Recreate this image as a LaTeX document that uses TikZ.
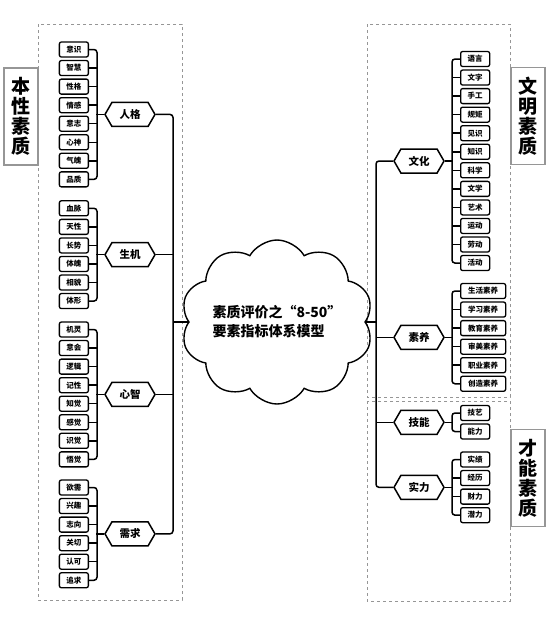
\documentclass[tikz,border=0pt]{standalone}
\usepackage{fontspec}
\setmainfont{Noto Sans CJK SC}
\usetikzlibrary{shapes.symbols,positioning}
\definecolor{framegray}{RGB}{150,150,150}

\begin{document}
\begin{tikzpicture}[x=1pt,y=-1pt,
    leaf/.style={draw,line width=1.3pt,rounded corners=2pt,fill=white,minimum height=15pt,inner sep=1pt,font=\fontsize{7.5}{8}\selectfont\bfseries},
    hexa/.style={signal,signal to=west and east,signal pointer angle=120,draw,line width=1.5pt,minimum width=50pt,minimum height=24pt,inner sep=0pt,font=\fontsize{10.5}{12}\selectfont\bfseries},
    link/.style={line width=1.5pt,rounded corners=3pt},
    zone/.style={draw=framegray,dashed,line width=0.6pt},
    tag/.style={draw=framegray,line width=1.2pt,fill=white,minimum width=34pt,minimum height=97pt,align=center,font=\fontsize{19}{20}\selectfont\bfseries}]
        \useasboundingbox (0,0) rectangle (550,622);
        % dashed zones and side tags
        \draw[zone] (38,24) rectangle (182,600);
        \draw[zone] (367,24) rectangle (510,397);
        \draw[zone] (367,401) rectangle (510,601);
        \node[tag] (bx) at (21,116.5) {本\\性\\素\\质};
        \node[tag] (wm) at (528,116) {文\\明\\素\\质};
        \node[tag] (cn) at (528,478) {才\\能\\素\\质};
        \coordinate (lt) at (173,0);
        \coordinate (rt) at (376,0);
        % centre
        \node[cloud,draw,line width=1.4pt,cloud puffs=10,cloud puff arc=120,cloud ignores aspect,minimum width=170pt,minimum height=164pt,align=left,font=\fontsize{14}{19}\selectfont\bfseries] (cloud) at (277,322) {素质评价之“8-50”\\要素指标体系模型};
        % left groups
        \foreach \g/\h/\y/\n/\items in {rg/人格/49.5/8/{意识,智慧,性格,情感,意志,心神,气魄,品质},
          sj/生机/208.3/6/{血脉,天性,长势,体魄,相貌,体形},
          xz/心智/329.5/8/{机灵,意会,逻辑,记性,知觉,感觉,识觉,悟觉},
          xq/需求/487.5/6/{欲需,兴趣,志向,关切,认可,追求}}{
          \foreach \t [count=\i] in \items
            \node[leaf,minimum width=29pt,anchor=east] (\g-\i) at (89,\y+\i*18.55-18.55) {\t};
          \node[hexa] (\g) at (130,\y+\n*9.275-9.275) {\h};
          \draw[link] (\g-1.east) -- ++(8,0) |- (\g-\n.east);
          \foreach \i in {1,...,\n}{
            \ifnum\i>1 \ifnum\i<\n \draw[link] (\g-\i.east) -- ++(8,0); \fi\fi
          }
          \draw[link] (\g.west) -- ++(-8,0);
        }
        % right groups
        \foreach \g/\h/\y/\n/\w/\items in {wh/文化/59/12/29/{语言,文字,手工,规矩,见识,知识,科学,文学,艺术,运动,劳动,活动},
          sy/素养/291/6/45/{生活素养,学习素养,教育素养,审美素养,职业素养,创造素养},
          jn/技能/413/2/29/{技艺,能力},
          sl/实力/459.5/4/29/{实绩,经历,财力,潜力}}{
          \foreach \t [count=\i] in \items
            \node[leaf,minimum width=\w pt,anchor=west] (\g-\i) at (460,\y+\i*18.55-18.55) {\t};
          \node[hexa] (\g) at (419,\y+\n*9.275-9.275) {\h};
          \draw[link] (\g-1.west) -- ++(-8,0) |- (\g-\n.west);
          \foreach \i in {1,...,\n}{
            \ifnum\i>1 \ifnum\i<\n \draw[link] (\g-\i.west) -- ++(-8,0); \fi\fi
          }
          \draw[link] (\g.east) -- ++(8,0);
        }
        % trunks
        \draw[link] (rg.east) -- (rg.east -| lt) |- (xq.east);
        \draw[link] (sj.east) -- (sj.east -| lt);
        \draw[link] (xz.east) -- (xz.east -| lt);
        \draw[link] (wh.west) -- (wh.west -| rt) |- (sl.west);
        \draw[link] (sy.west) -- (sy.west -| rt);
        \draw[link] (jn.west) -- (jn.west -| rt);
        \draw[link] (cloud.west) -- (cloud.west -| lt);
        \draw[link] (cloud.east) -- (cloud.east -| rt);
      \end{tikzpicture}
\end{document}
